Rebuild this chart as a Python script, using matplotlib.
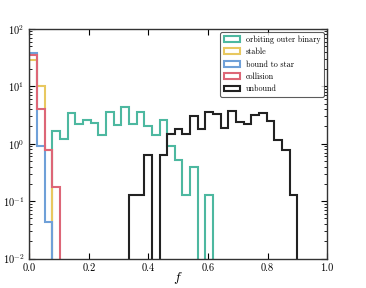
import numpy as np
import matplotlib
matplotlib.use("Agg")
import matplotlib.pyplot as plt

plt.rcParams['font.family'] = ['cmr10', 'DejaVu Serif']
plt.rcParams['mathtext.fontset'] = 'cm'
plt.rcParams['axes.formatter.use_mathtext'] = True

# 35 bins spanning 0 .. 0.9
n_bins = 35
edges = np.linspace(0.0, 0.9, n_bins + 1)
centers = 0.5 * (edges[:-1] + edges[1:])

def pad(vals):
    out = np.zeros(n_bins)
    out[:len(vals)] = vals
    return out

orbiting = pad([0, 0, 0, 1.68, 1.19, 3.46, 2.2, 2.58, 2.33, 1.44, 3.5, 2.15, 4.3,
                2.23, 3.6, 2.05, 1.44, 2.62, 0.91, 0.52, 0.13, 0.39, 0, 0.13])
stable = pad([28.6, 10.0, 0.79])
bound = pad([38.3, 0.91, 0.044])
collision = pad([34.9, 4.06, 0.79, 0.174])
unbound = pad([0, 0, 0, 0, 0, 0, 0, 0, 0, 0, 0, 0, 0, 0.13, 0.13, 0.63, 0, 0.63,
               1.45, 1.82, 1.46, 3.03, 1.8, 3.5, 3.3, 1.85, 3.75, 2.36, 2.2, 3.16,
               3.38, 2.48, 1.16, 0.79, 0.13])

labels = ["orbiting outer binary", "stable", "bound to star", "collision", "unbound"]
series = [orbiting, stable, bound, collision, unbound]
colors = ["#4DB8A0", "#E8C860", "#6FA0D8", "#DD6677", "#222222"]

fig = plt.figure(figsize=(3.66, 2.88), dpi=100)
ax = fig.add_axes([0.080, 0.102, 0.814, 0.798])

for vals, lab, col in zip(series, labels, colors):
    ax.hist(centers, bins=edges, weights=vals, histtype='step', log=True,
            color=col, lw=1.5, label=lab)

ax.set_xlim(0, 1)
ax.set_ylim(1e-2, 1e2)
ax.set_xticks([0.0, 0.2, 0.4, 0.6, 0.8, 1.0])
ax.set_xticklabels(["0.0", "0.2", "0.4", "0.6", "0.8", "1.0"])
ax.tick_params(which='both', direction='in', top=True, right=True, labelsize=7.5)
ax.tick_params(which='major', length=4, width=0.8)
ax.tick_params(which='minor', length=2, width=0.6)
for s in ax.spines.values():
    s.set_linewidth(1.0)
    s.set_color('#333333')

ax.set_xlabel("$f$", fontsize=10, labelpad=-2)
leg = ax.legend(loc='upper right', fontsize=5.8, frameon=True, fancybox=True,
                borderaxespad=0.4)
leg.get_frame().set_edgecolor('#333333')
leg.get_frame().set_linewidth(0.8)

fig.savefig("out.png", dpi=100)
